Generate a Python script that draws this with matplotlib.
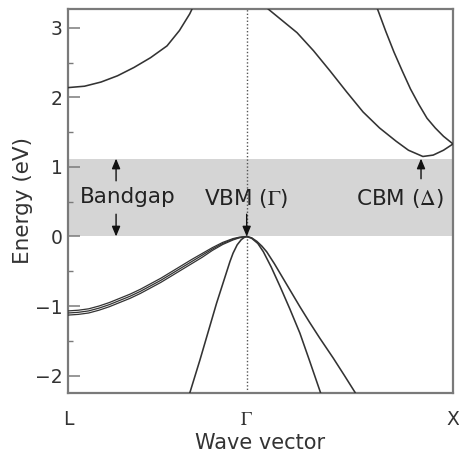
import numpy as np
import matplotlib
matplotlib.use("Agg")
import matplotlib.pyplot as plt

plt.rcParams['font.family'] = ['DejaVu Sans']
plt.rcParams['mathtext.fontset'] = 'stix'

# High-symmetry points (k in units of 2*pi/a along path L-Gamma-X)
kpoint_labels = ['L', r'$\Gamma$', 'X']
kpoint_pos = [0.0, 0.866, 1.866]

# Conduction band 1, left part (L -> Gamma, leaves top of frame)
cb1a_k = [0.00, 0.08, 0.16, 0.24, 0.32, 0.40, 0.48, 0.54, 0.59, 0.63]
cb1a_E = [2.14, 2.16, 2.22, 2.31, 2.43, 2.57, 2.74, 2.96, 3.20, 3.45]

# Conduction band 1, right part (Gamma -> X, with CBM at Delta)
cb1b_k = [0.93, 0.97, 1.04, 1.11, 1.19, 1.27, 1.35, 1.43, 1.51, 1.59, 1.65, 1.72, 1.77, 1.82, 1.866]
cb1b_E = [3.50, 3.27, 3.10, 2.93, 2.67, 2.38, 2.08, 1.79, 1.56, 1.37, 1.24, 1.15, 1.17, 1.24, 1.33]

# Conduction band 2 (Gamma -> X)
cb2_k = [1.45, 1.50, 1.54, 1.58, 1.62, 1.66, 1.70, 1.74, 1.78, 1.82, 1.866]
cb2_E = [3.65, 3.27, 2.95, 2.65, 2.38, 2.12, 1.90, 1.70, 1.56, 1.44, 1.33]

# Heavy valence bands (three nearly degenerate) L -> Gamma
hh_k = [0.00, 0.05, 0.10, 0.15, 0.20, 0.25, 0.30, 0.35, 0.40, 0.45,
        0.50, 0.55, 0.60, 0.65, 0.70, 0.75, 0.80, 0.83, 0.866]
hh1_E = [-1.07, -1.06, -1.04, -1.00, -0.95, -0.89, -0.83, -0.76, -0.68, -0.60,
         -0.51, -0.42, -0.33, -0.245, -0.16, -0.085, -0.03, -0.01, 0.0]
hh2_E = [-1.10, -1.09, -1.07, -1.03, -0.98, -0.92, -0.86, -0.79, -0.71, -0.63,
         -0.54, -0.45, -0.36, -0.27, -0.18, -0.10, -0.04, -0.015, 0.0]
hh3_E = [-1.13, -1.12, -1.10, -1.06, -1.01, -0.95, -0.89, -0.82, -0.74, -0.66,
         -0.57, -0.48, -0.39, -0.30, -0.20, -0.115, -0.05, -0.02, 0.0]

# Steep valence band, L side of Gamma
lhl_k = [0.585, 0.64, 0.72, 0.785, 0.80, 0.82, 0.84, 0.855, 0.866]
lhl_E = [-2.30, -1.77, -0.96, -0.36, -0.24, -0.12, -0.045, -0.012, 0.0]

# Valence bands, X side of Gamma
vba_k = [0.866, 0.89, 0.92, 0.947, 0.985, 1.028, 1.075, 1.124, 1.17, 1.221, 1.23]
vba_E = [0.0, -0.025, -0.10, -0.22, -0.44, -0.72, -1.04, -1.39, -1.78, -2.22, -2.30]
vbb_k = [0.866, 0.89, 0.915, 0.94, 0.963, 1.00, 1.04, 1.08, 1.124, 1.17, 1.22, 1.286, 1.34, 1.391, 1.40]
vbb_E = [0.0, -0.02, -0.07, -0.14, -0.22, -0.39, -0.59, -0.79, -1.01, -1.23, -1.46, -1.75, -2.00, -2.24, -2.30]

bandgap = [0.0, 1.12]
yticks = [-2, -1, 0, 1, 2, 3]
yticks_minor = [-1.5, -0.5, 0.5, 1.5, 2.5]
ylim = (-2.25, 3.27)

fig = plt.figure(figsize=(4.59, 4.54), dpi=100)
ax = fig.add_axes([68/459, 1-393/454, (453-68)/459, (393-9)/454])

ax.axhspan(bandgap[0], bandgap[1], color='#d5d5d5', lw=0, zorder=0)
ax.axvline(kpoint_pos[1], color='#555555', ls=(0, (1, 1.5)), lw=1.0, zorder=1)

lc = '#333333'
lw = 1.15
for k, E in [(cb1a_k, cb1a_E), (cb1b_k, cb1b_E), (cb2_k, cb2_E),
             (lhl_k, lhl_E), (vba_k, vba_E), (vbb_k, vbb_E)]:
    ax.plot(k, E, color=lc, lw=lw, zorder=3)
for E in (hh1_E, hh2_E, hh3_E):
    ax.plot(hh_k, E, color=lc, lw=0.9, zorder=3)

ax.set_xticks(kpoint_pos)
ax.set_xticklabels(kpoint_labels)
ax.set_yticks(yticks)
ax.set_yticklabels([('\u2212' + str(-v)) if v < 0 else str(v) for v in yticks])
ax.set_yticks(yticks_minor, minor=True)
ax.set_xlim(kpoint_pos[0], kpoint_pos[-1])
ax.set_ylim(*ylim)

scol = '#7a7a7a'
for s in ax.spines.values():
    s.set_color(scol)
    s.set_linewidth(1.6)
ax.tick_params(axis='y', which='major', direction='in', length=8.5, width=1.1,
               color=scol, labelsize=13.5, pad=4, labelcolor='#333333')
ax.tick_params(axis='y', which='minor', direction='in', length=3.6, width=1.0, color=scol)
ax.tick_params(axis='x', which='both', length=0, pad=12, labelsize=13.5, labelcolor='#333333')

ax.set_xlabel('Wave vector', fontsize=15, color='#333333', labelpad=3)
ax.set_ylabel('Energy (eV)', fontsize=15.5, color='#333333', labelpad=1)

arrow = dict(arrowstyle='-|>,head_length=0.6,head_width=0.25', color='#111111', lw=1.0,
             shrinkA=0, shrinkB=0)
# Bandgap arrows
ax.annotate('', xy=(0.233, bandgap[1]), xytext=(0.233, 0.80), arrowprops=arrow, zorder=4)
ax.annotate('', xy=(0.233, bandgap[0]), xytext=(0.233, 0.32), arrowprops=arrow, zorder=4)
ax.text(0.058, 0.485, 'Bandgap', fontsize=15.5, color='#222222', ha='left', va='baseline')
# VBM
ax.annotate('', xy=(kpoint_pos[1], 0.0), xytext=(kpoint_pos[1], 0.32), arrowprops=arrow, zorder=4)
ax.text(kpoint_pos[1], 0.45, r'VBM ($\Gamma$)', fontsize=15.5, color='#222222', ha='center', va='baseline')
# CBM
ax.annotate('', xy=(1.711, bandgap[1]), xytext=(1.711, 0.83), arrowprops=arrow, zorder=4)
ax.text(1.607, 0.45, r'CBM ($\Delta$)', fontsize=15.5, color='#222222', ha='center', va='baseline')

fig.savefig('out.png', dpi=100)
